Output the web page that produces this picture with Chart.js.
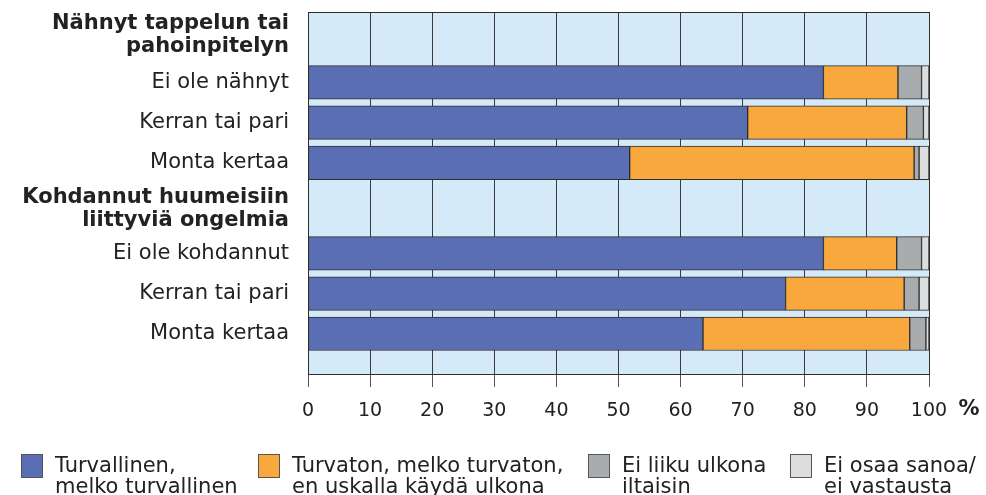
<!DOCTYPE html>
<html>
<head>
<meta charset="utf-8">
<script src="https://cdn.jsdelivr.net/npm/chart.js@4/dist/chart.umd.min.js"></script>
<style>
  html, body { margin: 0; padding: 0; background: #fff; }
  #wrap { position: relative; width: 986px; height: 495px; }
</style>
</head>
<body>
<div id="wrap"><canvas id="chart" width="986" height="495"></canvas></div>
<script>
// Row labels and group headers
const rowLabels = ['Ei ole nähnyt', 'Kerran tai pari', 'Monta kertaa', 'Ei ole kohdannut', 'Kerran tai pari', 'Monta kertaa'];
const headerLabels = [['Nähnyt tappelun tai', 'pahoinpitelyn'], ['Kohdannut huumeisiin', 'liittyviä ongelmia']];

// Series values (%)
const turvallinen = [83.0, 70.8, 51.8, 83.0, 76.9, 63.6];
const turvaton    = [12.0, 25.6, 45.8, 11.8, 19.1, 33.3];
const eiLiiku     = [3.8, 2.7, 0.8, 4.0, 2.4, 2.6];
const eiOsaa      = [1.2, 0.9, 1.6, 1.2, 1.6, 0.5];

const seriesLabels = [
    ['Turvallinen,', 'melko turvallinen'],
    ['Turvaton, melko turvaton,', 'en uskalla käydä ulkona'],
    ['Ei liiku ulkona', 'iltaisin'],
    ['Ei osaa sanoa/', 'ei vastausta']
];
const xTicks = [0, 10, 20, 30, 40, 50, 60, 70, 80, 90, 100];

// Layout: slot positions on the vertical axis (header rows are taller)
const rowPos = [1.75, 2.75, 3.75, 6, 7, 8];
const headerPos = [0.58, 4.9];
const legendX = [21, 258, 588, 790];

const colors = ['#5a6eb4', '#f9a83d', '#a9acaf', '#dcdddd'];
const FONT = "'DejaVu Sans', Verdana, sans-serif";

const yTicks = rowPos.map((p, i) => ({ value: p, label: rowLabels[i], bold: false }))
    .concat(headerPos.map((p, i) => ({ value: p, label: headerLabels[i], bold: true })));

function toPoints(arr) {
    return arr.map((v, i) => ({ x: v, y: rowPos[i] }));
}

function noPad(s) {
    s.paddingTop = 0;
    s.paddingBottom = 0;
    s.paddingLeft = 0;
    s.paddingRight = 0;
}

const allSeries = [turvallinen, turvaton, eiLiiku, eiOsaa];

const bgPlugin = {
    id: 'bg',
    beforeDraw(chart) {
        const a = chart.chartArea, ctx = chart.ctx;
        ctx.save();
        ctx.fillStyle = '#d5eaf8';
        ctx.fillRect(a.left, a.top, a.right - a.left, a.bottom - a.top);
        ctx.restore();
    },
    afterDatasetsDraw(chart) {
        const a = chart.chartArea, ctx = chart.ctx;
        ctx.save();
        ctx.strokeStyle = '#2e2e2e';
        ctx.lineWidth = 1;
        ctx.strokeRect(Math.round(a.left) + 0.5, Math.round(a.top) + 0.5, Math.round(a.right - a.left), Math.round(a.bottom - a.top));
        ctx.restore();
    },
    afterDraw(chart) {
        const ctx = chart.ctx;
        ctx.save();
        // percent sign after the last tick
        ctx.fillStyle = '#222';
        ctx.font = 'bold 21px ' + FONT;
        ctx.textAlign = 'center';
        ctx.textBaseline = 'middle';
        ctx.fillText('%', 969, 410);
        // legend
        chart.data.datasets.forEach((ds, i) => {
            const x = legendX[i];
            ctx.fillStyle = ds.backgroundColor;
            ctx.fillRect(x, 454, 21, 23);
            ctx.strokeStyle = '#555';
            ctx.lineWidth = 1;
            ctx.strokeRect(x + 0.5, 454.5, 21, 23);
            ctx.fillStyle = '#222';
            ctx.font = '21px ' + FONT;
            ctx.textAlign = 'left';
            ctx.textBaseline = 'middle';
            seriesLabels[i].forEach((line, j) => {
                ctx.fillText(line, x + 34, 467 + j * 21);
            });
        });
        ctx.restore();
    }
};

new Chart(document.getElementById('chart'), {
    type: 'bar',
    data: {
        datasets: allSeries.map((s, i) => ({
            label: seriesLabels[i].join(' '),
            data: toPoints(s),
            backgroundColor: colors[i],
            borderColor: '#2e2e2e',
            borderWidth: 1,
            borderSkipped: false,
            barThickness: 33.5
        }))
    },
    options: {
        indexAxis: 'y',
        responsive: false,
        animation: false,
        layout: { padding: { top: 12, right: 57, left: 0, bottom: 71 } },
        plugins: {
            legend: { display: false },
            tooltip: { enabled: false }
        },
        scales: {
            x: {
                type: 'linear',
                stacked: true,
                min: 0,
                max: 100,
                afterFit: s => { s.height = 50; noPad(s); },
                afterBuildTicks: s => { s.ticks = xTicks.map(v => ({ value: v })); },
                grid: {
                    color: '#3a3a3a',
                    lineWidth: 1,
                    tickLength: 13,
                    tickColor: '#555'
                },
                border: { display: true, color: '#2e2e2e' },
                ticks: {
                    color: '#222',
                    padding: 13,
                    font: { family: FONT, size: 19 },
                    callback: v => String(v)
                }
            },
            y: {
                type: 'linear',
                stacked: true,
                reverse: true,
                offset: false,
                min: 0,
                max: 9,
                afterFit: s => { s.width = 308; noPad(s); },
                afterBuildTicks: s => { s.ticks = yTicks.map(t => ({ value: t.value })); },
                grid: { display: false, offset: false },
                border: { display: true, color: '#2e2e2e' },
                ticks: {
                    autoSkip: false,
                    color: '#222',
                    padding: 11,
                    font: ctx => ({
                        family: FONT,
                        size: 21,
                        weight: (yTicks[ctx.index] && yTicks[ctx.index].bold) ? 'bold' : 'normal',
                        lineHeight: 1.1
                    }),
                    callback: (v, i) => yTicks[i].label
                }
            }
        }
    },
    plugins: [bgPlugin]
});
</script>
</body>
</html>
